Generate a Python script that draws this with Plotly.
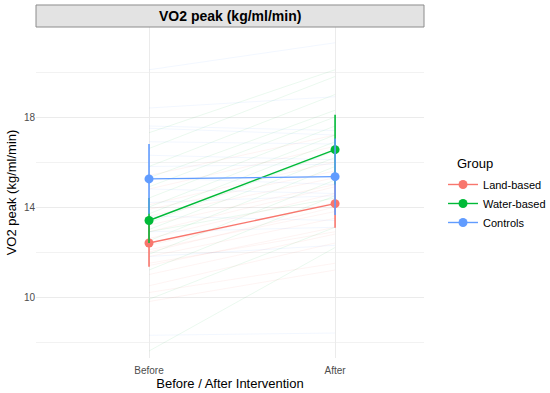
import plotly.graph_objects as go

groups = ["Land-based", "Water-based", "Controls"]
colors = ["#F8766D", "#00BA38", "#619CFF"]
time_labels = ["Before", "After"]

land_before = [9.8, 10.5, 11.0, 11.4, 11.8, 12.0, 12.3, 12.6, 12.9, 13.2, 13.6, 14.1, 14.8, 15.4, 10.2, 12.1, 11.5, 13.9]
land_after = [11.2, 12.4, 12.8, 13.1, 13.5, 14.0, 14.2, 14.6, 14.9, 15.0, 15.3, 16.0, 16.7, 17.2, 11.5, 13.8, 12.9, 15.6]
water_before = [7.6, 9.9, 11.2, 11.9, 12.5, 13.0, 13.3, 13.7, 14.0, 14.4, 14.9, 15.3, 15.8, 16.6, 17.3, 12.9]
water_after = [12.2, 13.1, 14.5, 15.2, 15.8, 16.2, 16.5, 16.9, 17.2, 17.6, 18.0, 18.3, 19.0, 19.8, 20.1, 14.4]
ctrl_before = [8.3, 11.8, 12.9, 13.6, 14.2, 14.8, 15.3, 15.8, 16.3, 16.9, 17.6, 18.4, 20.1, 17.5]
ctrl_after = [8.4, 12.3, 13.1, 13.4, 14.5, 14.6, 15.0, 15.9, 16.1, 16.8, 17.4, 18.9, 21.3, 17.2]

mean_before = [12.40, 13.40, 15.25]
mean_after = [14.15, 16.55, 15.35]
err_before = [1.05, 1.00, 1.55]
err_after = [1.07, 1.55, 1.70]

individuals = [(land_before, land_after), (water_before, water_after), (ctrl_before, ctrl_after)]

def rgba(hexc, a):
    h = hexc.lstrip("#")
    r, g, b = int(h[0:2], 16), int(h[2:4], 16), int(h[4:6], 16)
    return f"rgba({r},{g},{b},{a})"

fig = go.Figure()

for gi, (bef, aft) in enumerate(individuals):
    for b, a in zip(bef, aft):
        fig.add_trace(go.Scatter(
            x=[0, 1], y=[b, a], mode="lines",
            line=dict(color=rgba(colors[gi], 0.12), width=0.7),
            showlegend=False, hoverinfo="skip"))

for gi, g in enumerate(groups):
    fig.add_trace(go.Scatter(
        x=[0, 1], y=[mean_before[gi], mean_after[gi]],
        mode="lines+markers", name=g,
        line=dict(color=colors[gi], width=1.4),
        marker=dict(color=colors[gi], size=9),
        error_y=dict(type="data", array=[err_before[gi], err_after[gi]],
                     color=colors[gi], thickness=1.6, width=0)))

fig.add_shape(type="rect", xref="paper", yref="paper",
              x0=0, x1=1, y0=1.0, y1=1.0665,
              fillcolor="#E3E3E3", line=dict(color="#8C8C8C", width=1))
fig.add_annotation(text="<b>VO2 peak (kg/ml/min)</b>", xref="paper", yref="paper",
                   x=0.5, y=1.033, showarrow=False,
                   font=dict(size=14, color="black"), xanchor="center", yanchor="middle")
fig.add_annotation(text="Group", xref="paper", yref="paper",
                   x=1.080, y=0.589, showarrow=False,
                   font=dict(size=13, color="black"), xanchor="left", yanchor="middle")

fig.update_layout(
    width=550, height=393,
    margin=dict(l=36, r=126, t=27, b=35, autoexpand=False),
    plot_bgcolor="white", paper_bgcolor="white",
    font=dict(family="Liberation Sans, Arial, sans-serif", color="black"),
    legend=dict(x=1.049, y=0.568, xanchor="left", yanchor="top",
                font=dict(size=11), tracegroupgap=2),
    xaxis=dict(range=[-0.6075, 1.478], tickvals=[0, 1], ticktext=time_labels,
               automargin=False, ticklabelstandoff=5,
               showgrid=True, gridcolor="#EBEBEB", gridwidth=1, zeroline=False,
               showline=False, ticks="", tickfont=dict(size=10, color="#4D4D4D"),
               title=dict(text="Before / After Intervention", font=dict(size=13), standoff=2)),
    yaxis=dict(range=[7.29, 22.0], tickvals=[10, 14, 18],
               automargin=False,
               showgrid=True, gridcolor="#EBEBEB", gridwidth=1, zeroline=False,
               showline=False, ticks="", tickfont=dict(size=10, color="#4D4D4D"),
               minor=dict(tickvals=[8, 12, 16, 20], showgrid=True, gridcolor="#F2F2F2", gridwidth=0.6),
               title=dict(text="VO2 peak (kg/ml/min)", font=dict(size=13), standoff=4)),
)

fig.write_html("out.html", config={"displayModeBar": False},
               post_script="document.body.style.margin='0';")
